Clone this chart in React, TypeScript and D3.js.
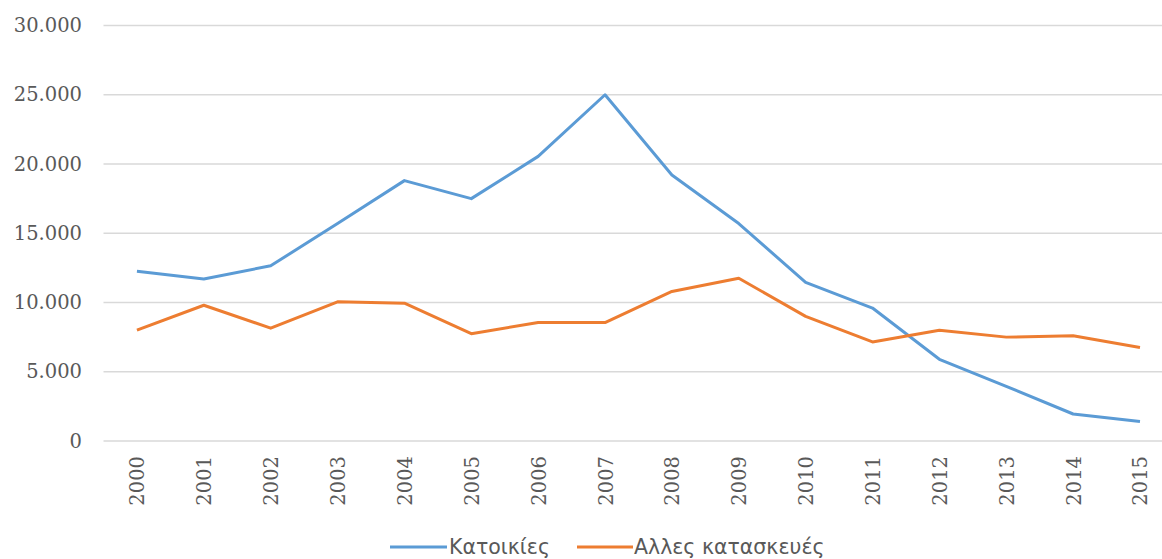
import React from "react";
import * as d3 from "d3";

const years = ["2000","2001","2002","2003","2004","2005","2006","2007","2008","2009","2010","2011","2012","2013","2014","2015"];
const katoikies = [12250, 11700, 12650, 15700, 18800, 17500, 20550, 25000, 19200, 15700, 11450, 9600, 5900, 3950, 1950, 1400];
const alles = [8000, 9800, 8150, 10050, 9950, 7750, 8550, 8550, 10800, 11750, 9000, 7150, 8000, 7500, 7600, 6750];
const yTicks = [0, 5000, 10000, 15000, 20000, 25000, 30000];
const seriesNames = ["Κατοικίες", "Αλλες κατασκευές"];
const colors = ["#5b9bd5", "#ed7d31"];

const W = 1162, H = 559;

export default function App() {
  const x = d3.scaleBand().domain(years).range([103.5, 103.5 + 16 * 66.87]);
  const y = d3.scaleLinear().domain([0, 30000]).range([441, 25.5]);
  const cx = (d: string) => (x(d) as number) + x.bandwidth() / 2;
  const fmt = (v: number) => d3.format(",")(v).replace(/,/g, ".");
  const line = d3.line<number>().x((_, i) => cx(years[i])).y((v) => y(v));
  const series = [katoikies, alles];
  return (
    <svg width={W} height={H} style={{ position: "absolute", left: 0, top: 0, background: "#fff" }}>
      {yTicks.map((t) => (
        <g key={t}>
          <line x1={103.5} x2={W} y1={y(t)} y2={y(t)} stroke="#d9d9d9" strokeWidth={1.5} />
          <text x={82} y={y(t)} textAnchor="end" dominantBaseline="central" fontFamily="DejaVu Serif" fontSize={19.5} fill="#595959">
            {fmt(t)}
          </text>
        </g>
      ))}
      {years.map((yr) => (
        <text key={yr} transform={`translate(${cx(yr) + 1},456) rotate(-90)`} textAnchor="end" dominantBaseline="central" fontFamily="DejaVu Serif" fontSize={19.5} fill="#595959">
          {yr}
        </text>
      ))}
      {series.map((s, i) => (
        <path key={i} d={line(s) as string} fill="none" stroke={colors[i]} strokeWidth={3} strokeLinejoin="round" />
      ))}
      <g>
        <line x1={390} x2={447} y1={547} y2={547} stroke={colors[0]} strokeWidth={3} />
        <text x={449} y={547} dominantBaseline="central" fontFamily="DejaVu Sans" fontSize={20.5} fill="#595959">{seriesNames[0]}</text>
        <line x1={577} x2={633} y1={547} y2={547} stroke={colors[1]} strokeWidth={3} />
        <text x={634} y={547} dominantBaseline="central" fontFamily="DejaVu Sans" fontSize={20.5} fill="#595959">{seriesNames[1]}</text>
      </g>
    </svg>
  );
}
